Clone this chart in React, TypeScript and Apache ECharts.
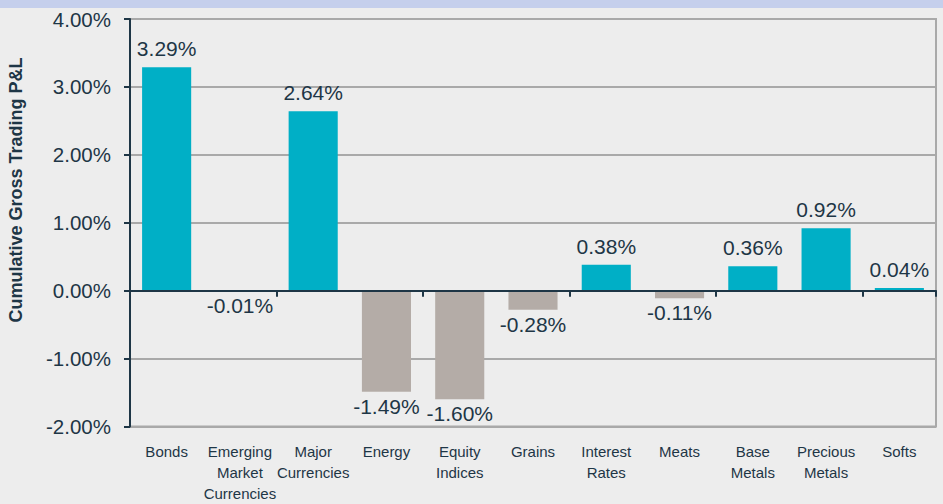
import React, { useEffect, useRef } from "react";
import * as echarts from "echarts";

const categories = [
  "Bonds",
  "Emerging\nMarket\nCurrencies",
  "Major\nCurrencies",
  "Energy",
  "Equity\nIndices",
  "Grains",
  "Interest\nRates",
  "Meats",
  "Base\nMetals",
  "Precious\nMetals",
  "Softs",
];
const pnlValues = [3.29, -0.01, 2.64, -1.49, -1.6, -0.28, 0.38, -0.11, 0.36, 0.92, 0.04];
const yTicks = { min: -2, max: 4, interval: 1 };
const yTitle = "Cumulative Gross Trading P&L";

const POS = "#00AFC6";
const NEG = "#B4ACA7";
const TEXT = "#1E3646";
const FONT = "'Liberation Sans', Arial, sans-serif";

export default function App() {
  const ref = useRef<HTMLDivElement>(null);
  useEffect(() => {
    if (!ref.current) return;
    const chart = echarts.init(ref.current, undefined, { renderer: "svg" });
    chart.setOption({
      animation: false,
      backgroundColor: "#EDEDED",
      textStyle: { fontFamily: FONT },
      grid: {
        left: 130,
        right: 7,
        top: 19,
        bottom: 72,
        show: true,
        borderColor: "#A9A9A9",
        borderWidth: 2,
        backgroundColor: "transparent",
      },
      xAxis: [
        {
          type: "category",
          data: categories,
          position: "bottom",
          axisLine: { onZero: true, lineStyle: { color: "#1E3646", width: 2 } },
          axisTick: { show: true, length: 6, alignWithLabel: false, lineStyle: { color: "#1E3646", width: 2 } },
          axisLabel: { show: false },
          splitLine: { show: false },
          z: 5,
        },
        {
          type: "category",
          data: categories,
          position: "bottom",
          axisLine: { show: false, onZero: false },
          axisTick: { show: false },
          splitLine: { show: false },
          axisLabel: {
            interval: 0,
            margin: 14.5,
            fontSize: 15,
            lineHeight: 21,
            color: TEXT,
            fontFamily: FONT,
            align: "center",
          },
        },
      ],
      yAxis: {
        type: "value",
        min: yTicks.min,
        max: yTicks.max,
        interval: yTicks.interval,
        axisLine: { show: true, lineStyle: { color: "#1E3646", width: 2 } },
        axisTick: { show: true, length: 6, lineStyle: { color: "#1E3646", width: 2 } },
        splitLine: { show: true, lineStyle: { color: "#A9A9A9", width: 2 } },
        axisLabel: {
          fontSize: 20.5,
          color: TEXT,
          margin: 19,
          fontFamily: FONT,
          formatter: (v: number) => v.toFixed(2) + "%",
        },
      },
      series: [
        {
          type: "bar",
          xAxisIndex: 0,
          barWidth: "67%",
          data: pnlValues.map((v) => ({
            value: v,
            itemStyle: { color: v >= 0 ? POS : NEG },
            label: {
              show: true,
              position: v >= 0 ? "top" : "bottom",
              distance: v >= 0 ? 8 : 4,
              formatter: (p: any) => Number(p.value).toFixed(2) + "%",
              fontSize: 21,
              color: TEXT,
              fontFamily: FONT,
            },
          })),
        },
      ],
      graphic: [
        {
          type: "text",
          x: 16,
          y: 190,
          rotation: Math.PI / 2,
          style: {
            text: yTitle,
            textAlign: "center",
            textVerticalAlign: "middle",
            fontSize: 18,
            fontWeight: "bold",
            fontFamily: FONT,
            fill: TEXT,
          },
        },
        {
          type: "rect",
          left: 0,
          top: 0,
          z: 100,
          shape: { width: 943, height: 8 },
          style: { fill: "#C5CFEC" },
        },
      ],
    });
    return () => chart.dispose();
  }, []);
  return (
    <div
      ref={ref}
      style={{ position: "fixed", left: 0, top: 0, width: 943, height: 504 }}
    />
  );
}
